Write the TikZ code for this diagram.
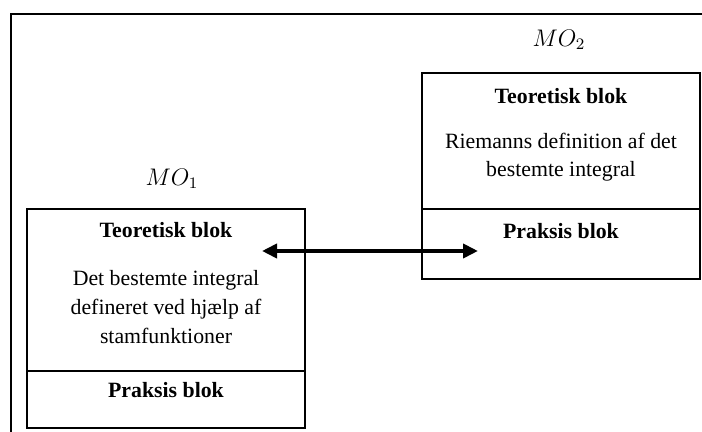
\documentclass[tikz,border=0pt]{standalone}
\usepackage{fontspec}
\setmainfont{Liberation Serif}
\usetikzlibrary{positioning,arrows.meta}

\begin{document}
\begin{tikzpicture}[
        x=0.5pt, y=-0.5pt,
        every node/.style={font=\fontsize{10.9}{14.3}\selectfont},
        blok/.style={draw, line width=0.6pt, minimum width=139pt, inner sep=0pt, outer sep=0pt},
        titel/.style={font=\fontsize{10.9}{14.3}\selectfont\bfseries},
        tekst/.style={align=center},
        mo/.style={font=\fontsize{11.5}{14}\selectfont},
        pil/.style={{Triangle[length=7.5pt,width=7pt]}-{Triangle[length=7.5pt,width=7pt]}, line width=2pt}
        ]
        \useasboundingbox (0,0) rectangle (702,432);
        % ramme
        \draw[line width=1pt] (11,445) |- (715,14);

        % MO1
        \node[blok, minimum height=81pt] (teori1) at (166,290) {};
        \node[blok, minimum height=28.5pt, below=0pt of teori1] (praksis1) {};
        \node[mo] (mo1) at (172,179) {$MO_1$};
        \node[titel] (titel1) at (166,230) {Teoretisk blok};
        \node[tekst] (tekst1) at (166,307) {Det bestemte integral\\defineret ved hjælp af\\stamfunktioner};
        \node[titel] (ptitel1) at (166,390) {Praksis blok};

        % MO2
        \node[blok, minimum height=68pt] (teori2) at (561,141) {};
        \node[blok, minimum height=35pt, below=0pt of teori2] (praksis2) {};
        \node[mo] (mo2) at (559,40) {$MO_2$};
        \node[titel] (titel2) at (561,96) {Teoretisk blok};
        \node[tekst] (tekst2) at (561,157) {Riemanns definition af det\\bestemte integral};
        \node[titel] (ptitel2) at (561,231) {Praksis blok};

        % pil
        \coordinate (venstre) at (262,251);
        \coordinate (hoejre) at (478,251);
        \draw[pil] (venstre) -- (hoejre);
    \end{tikzpicture}
\end{document}
